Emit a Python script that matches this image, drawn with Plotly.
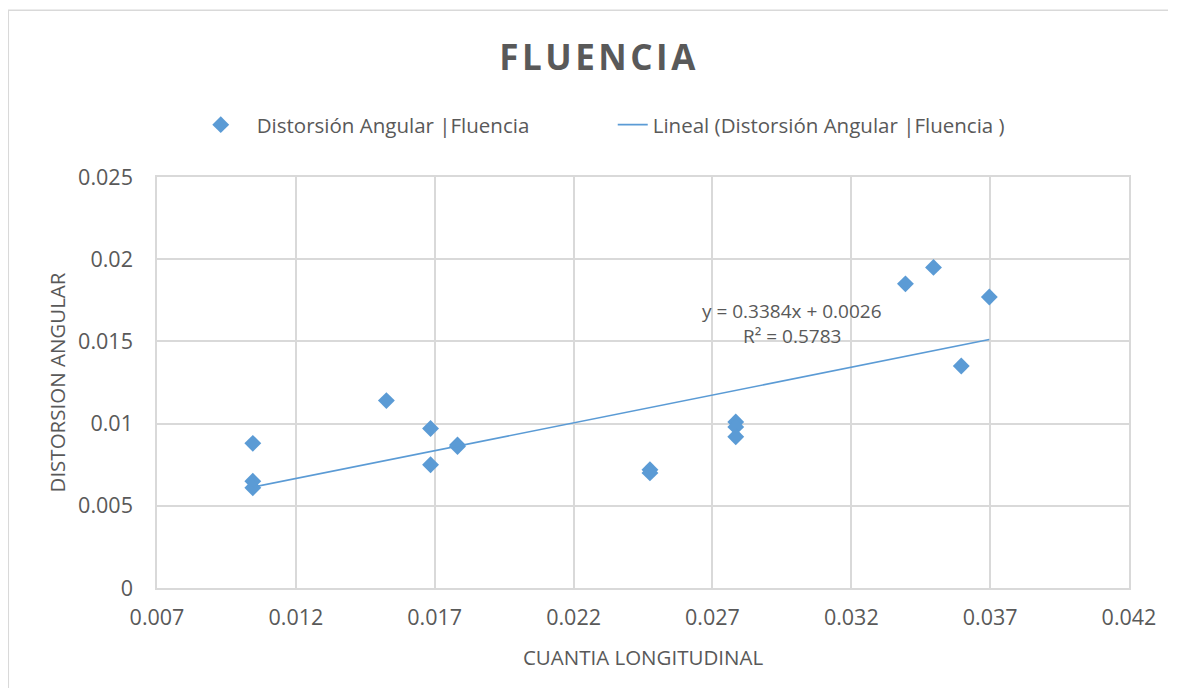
import plotly.graph_objects as go

# values
cuantia = [0.01045, 0.01045, 0.01045, 0.01526, 0.01685, 0.01685, 0.01782, 0.01782,
           0.02475, 0.02475, 0.02784, 0.02784, 0.02784, 0.03395, 0.03496, 0.03596, 0.03697]
distorsion = [0.0088, 0.0065, 0.0061, 0.0114, 0.0097, 0.0075, 0.0087, 0.0086,
              0.0072, 0.0070, 0.0101, 0.0098, 0.0092, 0.0185, 0.0195, 0.0135, 0.0177]

# linear trend shown on the chart
slope = 0.3384
intercept = 0.0026
r2 = 0.5783

x_ticks = [0.007, 0.012, 0.017, 0.022, 0.027, 0.032, 0.037, 0.042]
y_ticks = [0, 0.005, 0.01, 0.015, 0.02, 0.025]

BLUE = "#5b9bd5"
GRAY = "#595959"
GRID = "#d9d9d9"
FONT = "Open Sans"

trend_x = [min(cuantia), max(cuantia)]
trend_y = [slope * v + intercept for v in trend_x]

fig = go.Figure()
fig.add_trace(go.Scatter(
    x=cuantia, y=distorsion, mode="markers",
    name="\u00a0\u00a0\u00a0Distorsión Angular |Fluencia",
    marker=dict(symbol="diamond", size=13, color=BLUE),
))
fig.add_trace(go.Scatter(
    x=trend_x, y=trend_y, mode="lines",
    name="Lineal (Distorsión Angular |Fluencia )",
    line=dict(color=BLUE, width=1.6),
))

fig.add_annotation(x=0.02985, y=0.01685, text=f"y = {slope}x + {intercept}", showarrow=False,
                   font=dict(family=FONT, size=19, color=GRAY))
fig.add_annotation(x=0.02985, y=0.01533, text=f"R² = {r2}", showarrow=False,
                   font=dict(family=FONT, size=19, color=GRAY))

# outer chart border
fig.add_shape(type="rect", xref="paper", yref="paper", x0=-0.153, x1=1.1, y0=-0.3, y1=1.406,
              line=dict(color=GRID, width=1.5), layer="below")

title = "\u200a".join("FLUENCIA")

fig.update_layout(
    width=1160, height=680,
    margin=dict(l=149, r=37, t=169, b=100),
    paper_bgcolor="white", plot_bgcolor="white",
    font=dict(family=FONT, color=GRAY),
    title=dict(text=f"<b>{title}</b>", x=0.508, xanchor="center", y=1 - 50 / 680, yanchor="middle",
               font=dict(family=FONT, size=35, color=GRAY)),
    legend=dict(orientation="h", x=0.045, xanchor="left", y=1.127, yanchor="middle",
                font=dict(family=FONT, size=20.5, color=GRAY),
                entrywidth=367, entrywidthmode="pixels"),
    xaxis=dict(
        range=[0.007, 0.042], tickvals=x_ticks, ticktext=[str(v) for v in x_ticks],
        showgrid=True, gridcolor=GRID, gridwidth=1.5, zeroline=False,
        showline=True, linecolor=GRID, linewidth=1.5, mirror=True,
        tickfont=dict(family=FONT, size=21.5, color=GRAY), ticklabelstandoff=9,
        title=dict(text="CUANTIA LONGITUDINAL", font=dict(family=FONT, size=20.5, color=GRAY), standoff=21),
    ),
    yaxis=dict(
        range=[0, 0.025], tickvals=y_ticks, ticktext=[str(v) for v in y_ticks],
        showgrid=True, gridcolor=GRID, gridwidth=1.5, zeroline=False,
        showline=True, linecolor=GRID, linewidth=1.5, mirror=True,
        tickfont=dict(family=FONT, size=21.5, color=GRAY), ticklabelstandoff=18,
        title=dict(text="DISTORSION ANGULAR", font=dict(family=FONT, size=20.5, color=GRAY), standoff=7),
    ),
)

fig.write_html("out.html")
